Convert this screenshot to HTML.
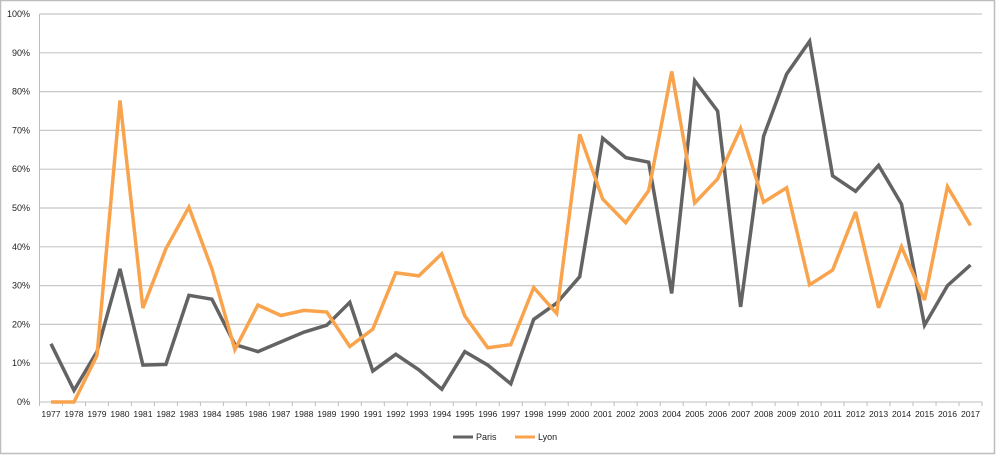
<!DOCTYPE html>
<html><head><meta charset="utf-8"><style>
body{margin:0;background:#fff;}
svg{display:block;font-family:"Liberation Sans",sans-serif;}
</style></head><body>
<svg id="c" width="996" height="456" xmlns="http://www.w3.org/2000/svg">
<rect x="0.5" y="0.5" width="994" height="453" fill="#fff" stroke="#bdbdbd" stroke-width="1.5"/>
<g id="g"></g>
<g font-size="9" fill="#222">
<line x1="453" y1="437" x2="473" y2="437" stroke="#636363" stroke-width="3"/>
<text x="476" y="440">Paris</text>
<line x1="515" y1="437" x2="535" y2="437" stroke="#f9a34d" stroke-width="3"/>
<text x="538" y="440">Lyon</text>
</g>
</svg>
<script>
var P=[15,3,13,34.3,9.5,9.7,27.5,26.5,14.8,13,15.5,18,19.8,25.7,8,12.3,8.3,3.3,13,9.5,4.7,21.3,25.5,32.3,68,63,61.8,28,82.8,75,24.5,68.5,84.5,93,58.3,54.3,61,51,19.8,30,35.3];
var L=[0,0,12,77.7,24.2,39.5,50.2,34.3,13.5,25,22.3,23.6,23.2,14.3,18.8,33.3,32.5,38.2,22.2,14,14.8,29.5,22.8,69,52.3,46.2,54.5,85.2,51.3,57.5,70.5,51.5,55.2,30.2,34,49,24.3,40,26.3,55.5,45.5];
var x0=39.5,x1=982,y0=402,h=38.8,n=41,w=(x1-x0)/n,s='';
for(var k=1;k<=10;k++){var y=y0-k*h;s+='<line x1="'+x0+'" y1="'+y+'" x2="'+x1+'" y2="'+y+'" stroke="#c8c8c8" stroke-width="1.2"/>';}
for(var k=0;k<=10;k++){var y=y0-k*h;s+='<text x="30" y="'+(y+3)+'" text-anchor="end" font-size="9" fill="#222">'+(k*10)+'%</text>';}
s+='<line x1="'+x0+'" y1="'+(y0-10*h)+'" x2="'+x0+'" y2="'+y0+'" stroke="#bdbdbd"/>';
s+='<line x1="'+x0+'" y1="'+y0+'" x2="'+x1+'" y2="'+y0+'" stroke="#bdbdbd"/>';
for(var i=0;i<=n;i++){var x=x0+i*w;s+='<line x1="'+x+'" y1="'+y0+'" x2="'+x+'" y2="'+(y0+4)+'" stroke="#bdbdbd"/>';}
for(var i=0;i<n;i++){var x=x0+(i+0.5)*w;s+='<text x="'+x+'" y="'+(y0+15)+'" text-anchor="middle" font-size="8.6" fill="#222">'+(1977+i)+'</text>';}
function pl(d,c){var p=d.map(function(v,i){return (x0+(i+0.5)*w).toFixed(1)+','+(y0-v*h/10).toFixed(1)}).join(' ');return '<polyline points="'+p+'" fill="none" stroke="'+c+'" stroke-width="3.5" stroke-linejoin="miter" stroke-miterlimit="3"/>';}
s+=pl(P,'#636363')+pl(L,'#f9a34d');
document.getElementById('g').innerHTML=s;
</script>
</body></html>
